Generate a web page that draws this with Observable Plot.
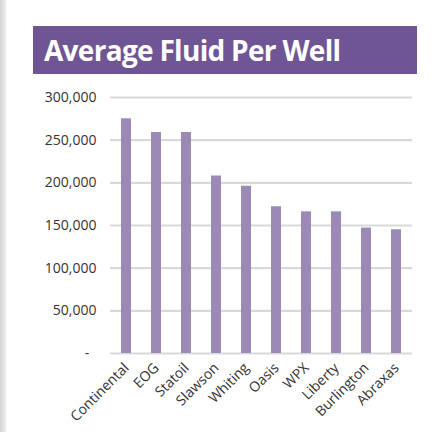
<!DOCTYPE html>
<html><head><meta charset="utf-8">
<script src="https://cdn.jsdelivr.net/npm/d3@7"></script>
<script src="https://cdn.jsdelivr.net/npm/@observablehq/plot@0.6"></script>
<style>
html,body{margin:0;padding:0;background:#fff;}
body{width:441px;height:432px;position:relative;overflow:hidden;font-family:"Open Sans",sans-serif;}
#edge{position:absolute;left:0;top:0;width:6px;height:432px;background:linear-gradient(to right,#d4d4d4,#eeeeee);}
#title{position:absolute;left:33px;top:26px;width:384px;height:48px;background:#6f5594;color:#fff;font-weight:700;font-size:28px;line-height:48px;padding-left:11px;box-sizing:border-box;letter-spacing:-0.7px;white-space:nowrap;}
#chart{position:absolute;left:0;top:80px;}
</style></head>
<body>
<div id="edge"></div>
<div id="title">Average Fluid Per Well</div>
<div id="chart"></div>
<script>
const companies = ["Continental","EOG","Statoil","Slawson","Whiting","Oasis","WPX","Liberty","Burlington","Abraxas"];
const fluid = [275000,259000,259000,208000,196000,172000,166000,166000,147000,145000];
const yTicks = [0,50000,100000,150000,200000,250000,300000];
const yTickLabels = ["-\u00a0\u00a0","50,000","100,000","150,000","200,000","250,000","300,000"];

const data = companies.map((c,i)=>({company:c, value:fluid[i]}));

const chart = Plot.plot({
  width:441, height:352,
  marginTop:17, marginBottom:79, marginLeft:110, marginRight:29,
  style:{fontFamily:"'Open Sans',sans-serif", fontSize:"14px", color:"#333", background:"transparent"},
  x:{domain:companies, paddingInner:0.67, paddingOuter:0.33, align:0.5, label:null},
  y:{domain:[0,300000], label:null},
  marks:[
    Plot.ruleY(yTicks,{stroke:"#d9d9d9", strokeWidth:2.2}),
    Plot.barY(data,{x:"company", y:"value", fill:"#9b8ab5"}),
    Plot.axisY({ticks:yTicks, tickSize:0, tickPadding:14, tickFormat:(d)=>yTickLabels[yTicks.indexOf(d)], label:null, fill:"#333", fontSize:14}),
    Plot.axisX({tickSize:0, tickPadding:12, tickRotate:-45, label:null, fill:"#333", fontSize:14})
  ]
});
document.getElementById("chart").appendChild(chart);
</script>
</body></html>
